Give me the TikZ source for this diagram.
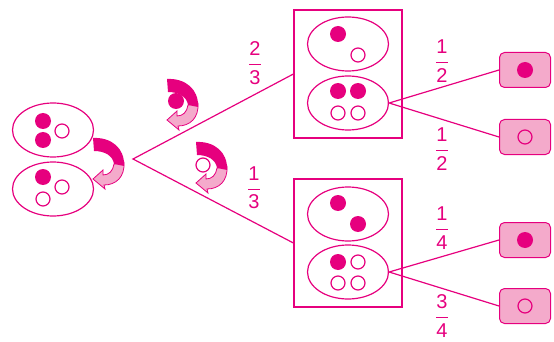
\documentclass[tikz,border=0pt]{standalone}
\usepackage{amsmath}
\usepackage{fontspec}
\setmainfont{Liberation Sans}
\usetikzlibrary{shapes.geometric}
\definecolor{mag}{HTML}{E6007E}
\definecolor{rose}{HTML}{F4AACB}

\tikzset{
  bag/.style={ellipse, draw=mag, line width=1.2pt, minimum width=81pt, minimum height=54pt, inner sep=0pt},
  urn/.style={rectangle, draw=mag, line width=1.2pt, minimum width=108pt, minimum height=128pt},
  card/.style={rectangle, rounded corners=5pt, draw=mag, fill=rose, line width=1pt, minimum width=51pt, minimum height=35pt},
  full/.style={circle, fill=mag, minimum size=16pt, inner sep=0pt},
  hole/.style={circle, draw=mag, line width=1.2pt, minimum size=14pt, inner sep=0pt},
  link/.style={draw=mag, line width=1.2pt},
  frc/.style={text=mag, inner sep=0pt, font=\fontsize{20}{24}\selectfont}
}

% turning arrow, light back part and dark front part
\newcommand{\swirl}[1]{%
  \begin{scope}[shift={#1}]
    \filldraw[draw=mag, fill=rose, line width=0.8pt] (31,24) .. controls (32,39) and (23,47) .. (11,47)
      -- (12,51) -- (0,41) -- (10,32) -- (10,37) .. controls (16,37) and (20,33) .. (21,26) -- cycle;
    \fill[mag] (0,0) .. controls (18,-1) and (32,10) .. (31,28) -- (21,26)
      .. controls (20,18) and (12,13) .. (1,13) -- cycle;
  \end{scope}}

\begin{document}
\begin{tikzpicture}[x=1pt, y=-1pt]
  \useasboundingbox (0,0) rectangle (554,342);

  % Draw bags on the left
  \node[bag] (bagA) at (53,130) {};
  \node[bag] (bagB) at (53,189) {};
  \node[full] (a1) at (43,121) {};
  \node[full] (a2) at (43,140) {};
  \node[hole] (a3) at (62,131) {};
  \node[full] (b1) at (43,177) {};
  \node[hole] (b2) at (62,187) {};
  \node[hole] (b3) at (43,199) {};

  % Draw turning arrows
  \swirl{(93,138)}
  \swirl{(167,79)}
  \swirl{(196,142)}
  \node[full] (d1) at (176,101) {};
  \node[hole] (d2) at (203,165) {};

  % Draw urns
  \node[urn] (urn1) at (348,74) {};
  \node[bag] (u1a) at (348,44) {};
  \node[bag] (u1b) at (348,103) {};
  \node[full] at (338,34) {};
  \node[hole] at (358,55) {};
  \node[full] at (338,91) {};
  \node[full] at (358,91) {};
  \node[hole] at (338,113) {};
  \node[hole] at (358,113) {};

  \node[urn] (urn2) at (348,243) {};
  \node[bag] (u2a) at (348,214) {};
  \node[bag] (u2b) at (348,272) {};
  \node[full] at (338,203) {};
  \node[full] at (358,224) {};
  \node[full] at (338,262) {};
  \node[hole] at (358,262) {};
  \node[hole] at (338,283) {};
  \node[hole] at (358,283) {};

  % Draw outcomes
  \node[card] (c1) at (525,70) {};
  \node[card] (c2) at (525,137) {};
  \node[card] (c3) at (525,240) {};
  \node[card] (c4) at (525,306) {};
  \node[full] at (c1.center) {};
  \node[hole] at (c2.center) {};
  \node[full] at (c3.center) {};
  \node[hole] at (c4.center) {};

  % Draw connections
  \coordinate (root) at (133,159);
  \draw[link] (urn1.west) -- (root) -- (urn2.west);
  \draw[link] (c1.west) -- (u1b.east) -- (c2.west);
  \draw[link] (c3.west) -- (u2b.east) -- (c4.west);

  % Draw probabilities
  \node[frc] (p1) at (255,63) {$\dfrac{\text{2}}{\text{3}}$};
  \node[frc] (p2) at (254,188) {$\dfrac{\text{1}}{\text{3}}$};
  \node[frc] (p3) at (442,61) {$\dfrac{\text{1}}{\text{2}}$};
  \node[frc] (p4) at (442,149) {$\dfrac{\text{1}}{\text{2}}$};
  \node[frc] (p5) at (442,228) {$\dfrac{\text{1}}{\text{4}}$};
  \node[frc] (p6) at (442,316) {$\dfrac{\text{3}}{\text{4}}$};
\end{tikzpicture}
\end{document}
